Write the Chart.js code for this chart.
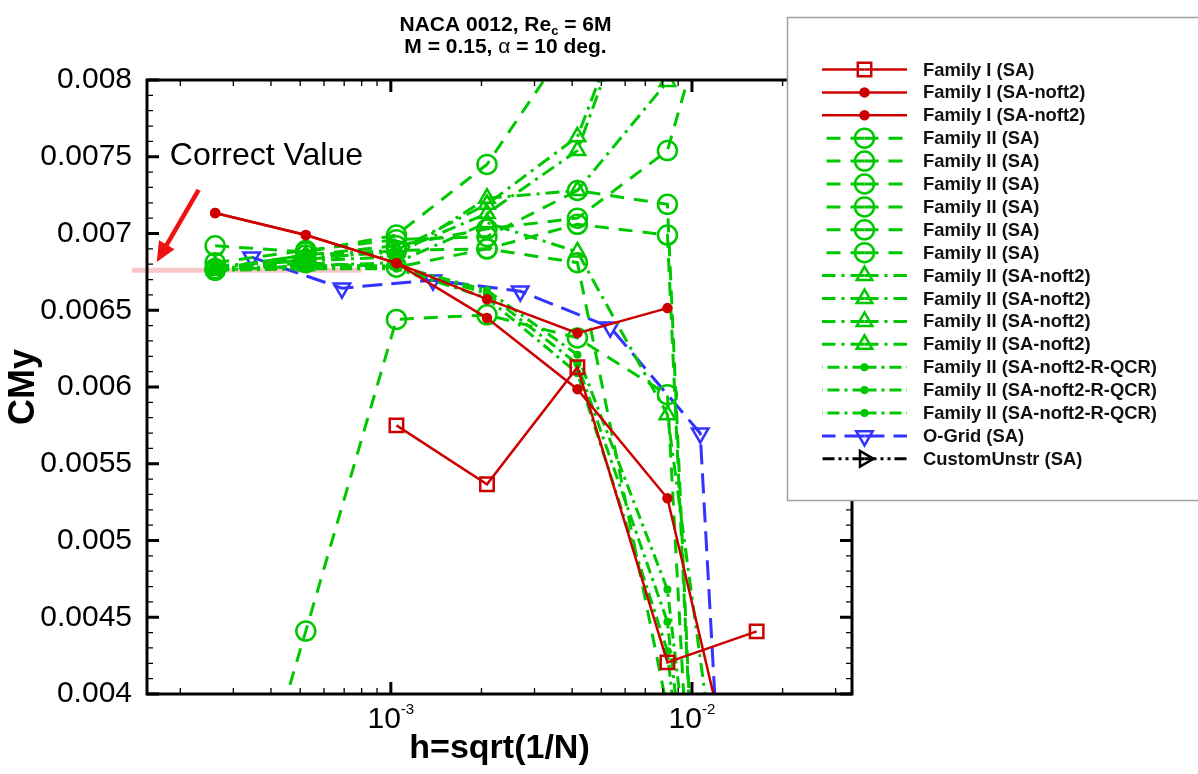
<!DOCTYPE html>
<html>
<head>
<meta charset="utf-8">
<script src="https://cdn.jsdelivr.net/npm/chart.js"></script>
<style>
  html, body { margin: 0; padding: 0; background: #fff; }
  canvas { display: block; }
</style>
</head>
<body>
<canvas id="cmyChart" width="1198" height="774"></canvas>

<script>
// grid spacing h = sqrt(1/N) for each grid level
const hFamily = [2.61e-4, 5.22e-4, 1.044e-3, 2.086e-3, 4.165e-3, 8.29e-3, 1.64e-2];
const hOGrid  = [3.45e-4, 6.88e-4, 1.38e-3, 2.69e-3, 5.35e-3, 1.065e-2, 2.13e-2];

// CMy per grid level (null = no result on that level)
const famI_SA       = [null, null, 0.00575, 0.005366, 0.006129, 0.004206, 0.004408];
const famI_noft2_a  = [0.007133, 0.00699, 0.006807, 0.006572, 0.006351, 0.006514];
const famI_noft2_b  = [0.007133, 0.00699, 0.006807, 0.006449, 0.005986, 0.005275, 0.0028];

const famII_SA_1 = [0.00692, 0.00688, 0.00699, 0.00745, 0.00832];
const famII_SA_2 = [0.00241, 0.00441, 0.00644, 0.00647, 0.00632, 0.00595, -0.0048];
const famII_SA_3 = [0.00681, 0.00689, 0.00696, 0.00698, 0.00728, 0.00719, -0.0060];
const famII_SA_4 = [0.00677, 0.00683, 0.00689, 0.00690, 0.00706, 0.00699, -0.0056];
const famII_SA_5 = [0.00677, 0.00686, 0.00692, 0.00703, 0.00710, 0.00754, 0.00957];
const famII_SA_6 = [0.00676, 0.00681, 0.00678, 0.00690, 0.00681, 0.00390];

const famII_noft2_1 = [0.00677, 0.00686, 0.00689, 0.00719, 0.00763, 0.00917];
const famII_noft2_2 = [0.00678, 0.00684, 0.00688, 0.00713, 0.00754, 0.00916];
const famII_noft2_3 = [0.00679, 0.00682, 0.00685, 0.00723, 0.00728, 0.00799, 0.0095];
const famII_noft2_4 = [0.00676, 0.00679, 0.00681, 0.00707, 0.00688, 0.00582, 0.0015];

const famII_qcr_1 = [0.00677, 0.00679, 0.00679, 0.00663, 0.00621, 0.00468, -0.0003];
const famII_qcr_2 = [0.00678, 0.00678, 0.00678, 0.00661, 0.00615, 0.00447, -0.0008];
const famII_qcr_3 = [0.00676, 0.00677, 0.00677, 0.00658, 0.00609, 0.00428, -0.0013];

const oGrid_SA = [0.006846, 0.006644, 0.006696, 0.006624, 0.00639, 0.005699, -0.0049];
const customUnstr_SA = [];

const correctValue = 0.00676;

// axes
const xMin = 1.55e-4, xMax = 3.4e-2;
const yMin = 0.004, yMax = 0.008, yStep = 0.0005;
const xMajorTicks = [1e-3, 1e-2];
const xMajorExp = ['-3', '-2'];

const RED = '#cc0000', GREEN = '#00c800', BLUE = '#3333ff';

function pts(h, vals) {
    return vals.map((v, i) => ({ x: h[i], y: v })).filter(p => p.y !== null);
}

const famStyles = {
    famI_SA:    { color: RED, dash: [], width: 2.5, point: 'rect', radius: 9.5, fillPt: false },
    famI_noft2: { color: RED, dash: [], width: 2.5, point: 'circle', radius: 4, fillPt: true },
    II_SA:      { color: GREEN, dash: [14, 10], width: 3, point: 'circle', radius: 9.5, fillPt: false },
    II_noft2:   { color: GREEN, dash: [14, 6, 3, 6], width: 3, point: 'triangle', radius: 9, fillPt: false },
    II_qcr:     { color: GREEN, dash: [12, 5, 3, 5], width: 3, point: 'circle', radius: 2.8, fillPt: true },
    oGrid:      { color: BLUE, dash: [20, 9], width: 3, point: 'triangle', radius: 9.5, fillPt: false, rot: 180 },
    custom:     { color: '#000', dash: [12, 4, 3, 4, 3, 4], width: 3, point: 'triangle', radius: 9, fillPt: false, rot: 90 }
};

function makeSet(label, data, st) {
    return {
        label: label,
        data: data,
        borderColor: st.color,
        borderWidth: st.width,
        borderDash: st.dash,
        borderCapStyle: 'butt',
        pointStyle: st.point,
        pointRadius: st.radius,
        pointRotation: st.rot || 0,
        pointBorderWidth: 2.5,
        pointBorderColor: st.color,
        pointBackgroundColor: st.fillPt ? st.color : 'rgba(0,0,0,0)',
        fill: false,
        tension: 0
    };
}

const datasets = [
    makeSet('Family I (SA)', pts(hFamily, famI_SA), famStyles.famI_SA),
    makeSet('Family I (SA-noft2)', pts(hFamily, famI_noft2_a), famStyles.famI_noft2),
    makeSet('Family I (SA-noft2)', pts(hFamily, famI_noft2_b), famStyles.famI_noft2),
    makeSet('Family II (SA)', pts(hFamily, famII_SA_1), famStyles.II_SA),
    makeSet('Family II (SA)', pts(hFamily, famII_SA_2), famStyles.II_SA),
    makeSet('Family II (SA)', pts(hFamily, famII_SA_3), famStyles.II_SA),
    makeSet('Family II (SA)', pts(hFamily, famII_SA_4), famStyles.II_SA),
    makeSet('Family II (SA)', pts(hFamily, famII_SA_5), famStyles.II_SA),
    makeSet('Family II (SA)', pts(hFamily, famII_SA_6), famStyles.II_SA),
    makeSet('Family II (SA-noft2)', pts(hFamily, famII_noft2_1), famStyles.II_noft2),
    makeSet('Family II (SA-noft2)', pts(hFamily, famII_noft2_2), famStyles.II_noft2),
    makeSet('Family II (SA-noft2)', pts(hFamily, famII_noft2_3), famStyles.II_noft2),
    makeSet('Family II (SA-noft2)', pts(hFamily, famII_noft2_4), famStyles.II_noft2),
    makeSet('Family II (SA-noft2-R-QCR)', pts(hFamily, famII_qcr_1), famStyles.II_qcr),
    makeSet('Family II (SA-noft2-R-QCR)', pts(hFamily, famII_qcr_2), famStyles.II_qcr),
    makeSet('Family II (SA-noft2-R-QCR)', pts(hFamily, famII_qcr_3), famStyles.II_qcr),
    makeSet('O-Grid (SA)', pts(hOGrid, oGrid_SA), famStyles.oGrid),
    makeSet('CustomUnstr (SA)', pts(hFamily, customUnstr_SA), famStyles.custom)
];

// same geometry as chart.js point styles, for the legend samples
function drawMarker(ctx, style, x, y, r, rot, color, filled, lw) {
    ctx.save();
    ctx.translate(x, y);
    ctx.rotate((rot || 0) * Math.PI / 180);
    ctx.beginPath();
    if (style === 'rect') {
        const s = r * Math.SQRT1_2;
        ctx.rect(-s, -s, 2 * s, 2 * s);
    } else if (style === 'triangle') {
        let a = 2 * Math.PI / 3;
        ctx.moveTo(Math.sin(a) * r, -Math.cos(a) * r);
        a += 2 * Math.PI / 3;
        ctx.lineTo(Math.sin(a) * r, -Math.cos(a) * r);
        a += 2 * Math.PI / 3;
        ctx.lineTo(Math.sin(a) * r, -Math.cos(a) * r);
        ctx.closePath();
    } else {
        ctx.arc(0, 0, r, 0, Math.PI * 2);
    }
    if (filled) { ctx.fillStyle = color; ctx.fill(); }
    ctx.strokeStyle = color;
    ctx.lineWidth = lw;
    ctx.stroke();
    ctx.restore();
}

const decor = {
    id: 'decor',
    beforeDatasetsDraw(chart) {
        const { ctx, chartArea: a, scales: { x, y } } = chart;
        // pink "correct value" band
        ctx.save();
        ctx.strokeStyle = 'rgba(240, 130, 130, 0.45)';
        ctx.lineWidth = 5;
        ctx.beginPath();
        const py = y.getPixelForValue(correctValue);
        ctx.moveTo(a.left - 15, py);
        ctx.lineTo(x.getPixelForValue(8.0e-4), py);
        ctx.stroke();
        ctx.restore();
    },
    afterDatasetsDraw(chart) {
        const { ctx, chartArea: a, scales: { x, y } } = chart;
        ctx.save();
        ctx.strokeStyle = '#000';
        ctx.lineWidth = 3;
        ctx.strokeRect(a.left, a.top, a.right - a.left, a.bottom - a.top);

        // y ticks, inward on both sides
        for (let i = 0; i <= 40; i++) {
            const v = yMin + i * 0.0001;
            const py = y.getPixelForValue(v);
            const major = i % 5 === 0;
            const len = major ? 12 : 6;
            ctx.lineWidth = major ? 3 : 1.3;
            ctx.beginPath();
            ctx.moveTo(a.left, py); ctx.lineTo(a.left + len, py);
            ctx.moveTo(a.right, py); ctx.lineTo(a.right - len, py);
            ctx.stroke();
        }
        // x ticks (log), inward on bottom and top
        for (let e = -4; e <= -2; e++) {
            for (let k = 1; k <= 9; k++) {
                const v = k * Math.pow(10, e);
                if (v <= xMin || v >= xMax) continue;
                const px = x.getPixelForValue(v);
                const major = k === 1;
                const len = major ? 12 : 6;
                ctx.lineWidth = major ? 3 : 1.3;
                ctx.beginPath();
                ctx.moveTo(px, a.bottom); ctx.lineTo(px, a.bottom - len);
                ctx.moveTo(px, a.top); ctx.lineTo(px, a.top + len);
                ctx.stroke();
            }
        }
        // x tick labels 10^-3, 10^-2
        ctx.fillStyle = '#000';
        ctx.textBaseline = 'alphabetic';
        ctx.textAlign = 'left';
        xMajorTicks.forEach((v, i) => {
            const px = x.getPixelForValue(v);
            ctx.font = '30px Arial';
            const wb = ctx.measureText('10').width;
            ctx.font = '15px Arial';
            const we = ctx.measureText(xMajorExp[i]).width;
            const x0 = px - (wb + we) / 2;
            ctx.font = '30px Arial';
            ctx.fillText('10', x0, a.bottom + 34);
            ctx.font = '15px Arial';
            ctx.fillText(xMajorExp[i], x0 + wb, a.bottom + 20);
        });
        ctx.restore();
    },
    afterDraw(chart) {
        const { ctx, chartArea: a, scales: { x, y } } = chart;
        ctx.save();

        // title
        const cx = (a.left + a.right) / 2 + 6;
        ctx.fillStyle = '#000';
        ctx.textBaseline = 'alphabetic';
        ctx.textAlign = 'left';
        const line1 = [['NACA 0012, Re', 'bold 21px Arial', 0], ['c', 'bold 13px Arial', 4], [' = 6M', 'bold 21px Arial', 0]];
        const line2 = [['M = 0.15, ', 'bold 21px Arial', 0], ['\u03b1', '21px Arial', 0], [' = 10 deg.', 'bold 21px Arial', 0]];
        [[line1, 31], [line2, 53]].forEach(([parts, base]) => {
            let w = 0;
            parts.forEach(p => { ctx.font = p[1]; w += ctx.measureText(p[0]).width; });
            let xx = cx - w / 2;
            parts.forEach(p => {
                ctx.font = p[1];
                ctx.fillText(p[0], xx, base + p[2]);
                xx += ctx.measureText(p[0]).width;
            });
        });

        // "Correct Value" note with arrow
        ctx.font = '32px Arial';
        ctx.fillText('Correct Value', x.getPixelForValue(1.845e-4), y.getPixelForValue(0.007446));
        const x1 = x.getPixelForValue(2.3e-4), y1 = y.getPixelForValue(0.007285);
        const x2 = x.getPixelForValue(1.67e-4), y2 = y.getPixelForValue(0.006814);
        const ang = Math.atan2(y2 - y1, x2 - x1);
        ctx.strokeStyle = '#ee1111';
        ctx.fillStyle = '#ee1111';
        ctx.lineWidth = 4.5;
        ctx.beginPath();
        ctx.moveTo(x1, y1);
        ctx.lineTo(x2 - Math.cos(ang) * 12, y2 - Math.sin(ang) * 12);
        ctx.stroke();
        ctx.beginPath();
        ctx.moveTo(x2, y2);
        ctx.lineTo(x2 - Math.cos(ang) * 20 + Math.sin(ang) * 9, y2 - Math.sin(ang) * 20 - Math.cos(ang) * 9);
        ctx.lineTo(x2 - Math.cos(ang) * 20 - Math.sin(ang) * 9, y2 - Math.sin(ang) * 20 + Math.cos(ang) * 9);
        ctx.closePath();
        ctx.fill();

        // legend box, drawn over the top right of the plot
        ctx.fillStyle = '#fff';
        ctx.fillRect(787, 17, 420, 484);
        ctx.strokeStyle = '#a0a0a0';
        ctx.lineWidth = 1.5;
        ctx.strokeRect(787.5, 17.5, 420, 483);

        const mid = 864.5;
        chart.data.datasets.forEach((ds, i) => {
            const yy = 69.5 + i * 22.9;
            ctx.strokeStyle = ds.borderColor;
            ctx.lineWidth = ds.borderWidth;
            ctx.setLineDash(ds.borderDash);
            ctx.beginPath(); ctx.moveTo(mid, yy); ctx.lineTo(822, yy); ctx.stroke();
            ctx.beginPath(); ctx.moveTo(mid, yy); ctx.lineTo(907, yy); ctx.stroke();
            ctx.setLineDash([]);
            drawMarker(ctx, ds.pointStyle, mid, yy, ds.pointRadius, ds.pointRotation,
                ds.borderColor, ds.pointBackgroundColor !== 'rgba(0,0,0,0)', 2.5);
            ctx.fillStyle = '#111';
            ctx.font = 'bold 18.4px Arial';
            ctx.textBaseline = 'middle';
            ctx.fillText(ds.label, 923, yy + 1);
        });
        ctx.restore();
    }
};

new Chart(document.getElementById('cmyChart'), {
    type: 'line',
    data: { datasets: datasets },
    options: {
        responsive: false,
        animation: false,
        devicePixelRatio: 1,
        layout: { padding: { left: 0, right: 346, top: 80, bottom: 0 } },
        plugins: {
            legend: { display: false },
            tooltip: { enabled: false },
            title: { display: false }
        },
        scales: {
            x: {
                type: 'logarithmic',
                min: xMin,
                max: xMax,
                grid: { display: false, drawTicks: false },
                border: { display: false },
                ticks: { display: false },
                title: {
                    display: true,
                    text: 'h=sqrt(1/N)',
                    color: '#000',
                    font: { family: 'Arial', size: 34, weight: 'bold' },
                    padding: { top: 0, bottom: 5 }
                },
                afterFit: s => { s.height = 80; }
            },
            y: {
                min: yMin,
                max: yMax,
                grid: { display: false, drawTicks: false },
                border: { display: false },
                ticks: {
                    stepSize: yStep,
                    padding: 15,
                    color: '#000',
                    font: { family: 'Arial', size: 30 },
                    callback: v => String(+v.toFixed(4))
                },
                title: {
                    display: true,
                    text: 'CMy',
                    color: '#000',
                    font: { family: 'Arial', size: 36, weight: 'bold' },
                    padding: { top: 2, bottom: 0 }
                },
                afterFit: s => { s.width = 147; }
            }
        }
    },
    plugins: [decor]
});
</script>
</body>
</html>
